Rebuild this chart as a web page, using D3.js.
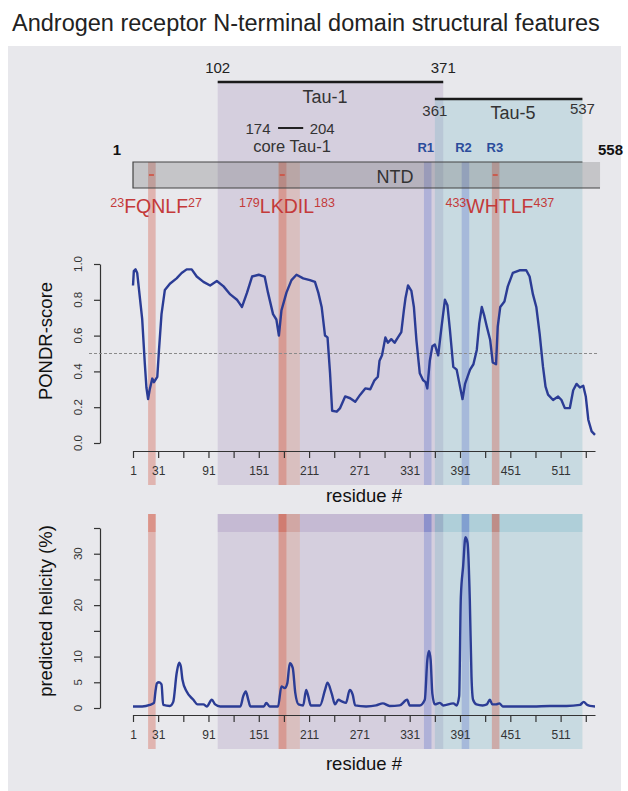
<!DOCTYPE html>
<html>
<head>
<meta charset="utf-8">
<script src="https://d3js.org/d3.v7.min.js"></script>
<style>
  body { margin: 0; background: #fff; }
  svg { display: block; font-family: "Liberation Sans", Arial, sans-serif; }
</style>
</head>
<body>
<svg id="chart" width="628" height="791"></svg>
<script>
// domain annotations (residue numbers)
const ntdRange = [1, 558];
const tauRegions = [
  { name: "Tau-1", start: 102, end: 371 },
  { name: "Tau-5", start: 361, end: 537 }
];
const coreTau1 = { name: "core Tau-1", start: 174, end: 204 };
const motifs = [
  { seq: "FQNLF", start: 23, end: 27 },
  { seq: "LKDIL", start: 179, end: 183 },
  { seq: "WHTLF", start: 433, end: 437 }
];
const repeats = [
  { name: "R1", start: 348, end: 357, band: true },
  { name: "R2", start: 393, end: 402, band: true },
  { name: "R3", start: 433, end: 437, band: false }
];

// axis ticks
const xTicks = d3.range(1, 542, 30);
const xLabels = [1, 31, 91, 151, 211, 271, 331, 391, 451, 511];
const pondrTicks = [0, 0.2, 0.4, 0.6, 0.8, 1.0];
const helixTicks = [0, 5, 10, 15, 20, 25, 30, 35];
const helixLabels = [0, 5, 10, 20, 30];

// PONDR disorder score [residue, score]
const pondr = [[1,0.88],[2,0.96],[4,0.97],[6,0.95],[9,0.82],[12,0.69],[15,0.45],[17,0.31],[19,0.245],[21,0.30],[24,0.36],[26,0.34],[30,0.37],[32,0.52],[35,0.72],[39,0.855],[45,0.89],[53,0.92],[59,0.95],[65,0.97],[71,0.97],[77,0.93],[85,0.90],[93,0.88],[101,0.905],[109,0.875],[117,0.83],[125,0.80],[128,0.78],[131,0.76],[137,0.84],[143,0.93],[151,0.94],[158,0.93],[162,0.84],[168,0.72],[172,0.69],[175,0.60],[178,0.74],[181,0.79],[184,0.84],[190,0.91],[196,0.94],[204,0.92],[212,0.91],[218,0.90],[222,0.84],[226,0.76],[230,0.60],[233,0.59],[236,0.39],[238.5,0.18],[244,0.175],[248,0.195],[254,0.26],[260,0.25],[266,0.23],[272,0.27],[278,0.305],[284,0.30],[289,0.35],[293,0.37],[295,0.46],[298,0.49],[302,0.59],[305,0.56],[309,0.58],[313,0.56],[317,0.59],[321,0.62],[324,0.74],[326,0.81],[329,0.88],[333,0.85],[336,0.76],[339,0.575],[343,0.39],[347,0.35],[350,0.34],[352,0.305],[355,0.46],[358,0.54],[361,0.55],[365,0.49],[369,0.65],[373,0.80],[376,0.77],[379,0.63],[383,0.425],[387,0.41],[391,0.315],[394,0.245],[397,0.33],[403,0.41],[407,0.44],[411,0.52],[414,0.67],[417,0.76],[420,0.71],[423,0.65],[427,0.575],[430,0.45],[434,0.44],[436,0.65],[439,0.76],[444,0.79],[448,0.875],[454,0.95],[462,0.965],[470,0.965],[474,0.93],[478,0.83],[482,0.76],[486,0.61],[490,0.425],[493,0.315],[496,0.27],[502,0.24],[508,0.26],[512,0.24],[516,0.195],[522,0.195],[526,0.295],[530,0.33],[534,0.31],[538,0.32],[541,0.26],[544,0.13],[548,0.065],[552,0.045]];

// predicted helicity (%) [residue, percent]
const helicity = [[1,0.3],[12,0.3],[21,0.6],[26,1.0],[28,3.5],[29.5,4.8],[32,5.0],[35,4.6],[37,0.6],[45,0.4],[49,1.2],[53,6.7],[56,8.8],[58,8.1],[60,5.5],[65,3.2],[73,1.6],[78,0.7],[85,0.7],[89,0.3],[95,1.6],[99,0.7],[105,0.3],[129,0.3],[132.5,2.3],[135.5,3.2],[138.5,1.6],[141,0.3],[157,0.3],[160,1.0],[164,0.3],[174,0.3],[178,4.2],[182,3.9],[185,4.8],[188,8.7],[191.5,7.8],[194.5,3.0],[198.5,0.7],[204,0.5],[207.5,3.5],[210,2.3],[213,0.5],[224,0.5],[230,3.5],[233,4.9],[238,2.8],[242,0.7],[246,1.6],[250,1.3],[255,1.0],[259.5,3.5],[263,2.6],[266,0.5],[279,0.3],[291,0.5],[299,0.9],[307,0.4],[319,0.5],[328,1.6],[331,0.5],[343,0.5],[349,1.6],[352,9.3],[354,11.1],[356,9.3],[358,2.8],[361,0.7],[367,1.0],[371,0.5],[383,0.9],[387,0.5],[390,2.3],[392,21.6],[394.7,27.5],[397.5,33.2],[400,32.1],[402.7,21.0],[404.7,6.1],[406.6,1.6],[410.6,0.7],[418,0.5],[423,0.7],[426.6,1.6],[429.6,0.7],[434,0.7],[438,0.9],[442,0.3],[478,0.3],[498,0.4],[518,0.4],[534,0.6],[538.6,1.2],[542,0.7],[546,0.4],[552,0.3]];

const svg = d3.select("#chart");

const x = d3.scaleLinear().domain([1, 552]).range([133, 595]);
const y1 = d3.scaleLinear().domain([0, 1]).range([443, 264]);
const y2 = d3.scaleLinear().domain([0, 35]).range([708, 528]);

const tauColor = { "Tau-1": "rgba(125,95,160,0.18)", "Tau-5": "rgba(95,175,190,0.23)" };
const tauBarY = { "Tau-1": 82, "Tau-5": 99 };
const red = "rgba(210,90,70,0.36)";
const orange = "rgba(230,150,110,0.28)";
const blue = "rgba(80,100,200,0.28)";
const lineBlue = "#2b3c95";

// title + grey panel
svg.append("text")
  .attr("x", 12).attr("y", 31)
  .attr("font-size", "23.5px")
  .attr("fill", "#222")
  .text("Androgen receptor N-terminal domain structural features");

svg.append("rect")
  .attr("x", 8).attr("y", 46)
  .attr("width", 613).attr("height", 745)
  .attr("fill", "#e8e8ec");

// shaded bands, drawn for one vertical span
function drawBands(g, top, bottom, tauTop) {
  g.selectAll("rect.tau")
    .data(tauRegions)
    .join("rect")
    .attr("class", "tau")
    .attr("x", d => x(d.start))
    .attr("width", d => x(d.end) - x(d.start))
    .attr("y", d => tauTop ? tauBarY[d.name] : top)
    .attr("height", d => bottom - (tauTop ? tauBarY[d.name] : top))
    .attr("fill", d => tauColor[d.name]);

  g.append("rect")
    .attr("x", x(coreTau1.start))
    .attr("width", x(coreTau1.end - 4) - x(coreTau1.start))
    .attr("y", top).attr("height", bottom - top)
    .attr("fill", orange);

  g.selectAll("rect.motif")
    .data(motifs)
    .join("rect")
    .attr("class", "motif")
    .attr("x", d => x(d.start - 4))
    .attr("width", d => x(d.end + 1) - x(d.start - 4))
    .attr("y", top).attr("height", bottom - top)
    .attr("fill", red);

  g.selectAll("rect.rep")
    .data(repeats.filter(d => d.band))
    .join("rect")
    .attr("class", "rep")
    .attr("x", d => x(d.start))
    .attr("width", d => x(d.end) - x(d.start))
    .attr("y", top).attr("height", bottom - top)
    .attr("fill", blue);
}

drawBands(svg.append("g"), 162, 485, true);
drawBands(svg.append("g"), 514, 749, false);
drawBands(svg.append("g"), 514, 532, false);

// NTD box
svg.append("rect")
  .attr("x", x(ntdRange[0]))
  .attr("width", x(ntdRange[1]) - x(ntdRange[0]))
  .attr("y", 162).attr("height", 26)
  .attr("fill", "rgba(90,90,90,0.25)");

svg.append("path")
  .attr("d", `M${x(537)},162H${x(ntdRange[0])}V188H${x(ntdRange[1])}`)
  .attr("fill", "none")
  .attr("stroke", "#444")
  .attr("stroke-width", 1.2);

svg.append("text")
  .attr("x", 395).attr("y", 183)
  .attr("text-anchor", "middle")
  .attr("font-size", "18px").attr("fill", "#333")
  .text("NTD");

svg.append("text")
  .attr("x", x(ntdRange[0]) - 16).attr("y", 155)
  .attr("text-anchor", "middle")
  .attr("font-size", "15px").attr("font-weight", "bold").attr("fill", "#111")
  .text(ntdRange[0]);

svg.append("text")
  .attr("x", x(ntdRange[1]) - 2).attr("y", 155)
  .attr("font-size", "15px").attr("font-weight", "bold").attr("fill", "#111")
  .text(ntdRange[1]);

// small red dashes on the box
svg.selectAll("line.dash")
  .data(motifs)
  .join("line")
  .attr("class", "dash")
  .attr("x1", d => x((d.start + d.end) / 2 - 2) - 2.5)
  .attr("x2", d => x((d.start + d.end) / 2 - 2) + 2.5)
  .attr("y1", 175).attr("y2", 175)
  .attr("stroke", "#d24a3a").attr("stroke-width", 1.5);

// Tau bars and labels
svg.selectAll("line.taubar")
  .data(tauRegions)
  .join("line")
  .attr("class", "taubar")
  .attr("x1", d => x(d.start)).attr("x2", d => x(d.end))
  .attr("y1", d => tauBarY[d.name]).attr("y2", d => tauBarY[d.name])
  .attr("stroke", "#1a1a1a").attr("stroke-width", 2.5);

const t1 = tauRegions[0], t5 = tauRegions[1];
svg.append("text").attr("x", x(t1.start)).attr("y", 73)
  .attr("text-anchor", "middle").attr("font-size", "15px").attr("fill", "#222").text(t1.start);
svg.append("text").attr("x", x(t1.end)).attr("y", 73)
  .attr("text-anchor", "middle").attr("font-size", "15px").attr("fill", "#222").text(t1.end);
svg.append("text").attr("x", 325).attr("y", 103)
  .attr("text-anchor", "middle").attr("font-size", "18px").attr("fill", "#333").text(t1.name);

svg.append("text").attr("x", x(t5.start)).attr("y", 116)
  .attr("text-anchor", "middle").attr("font-size", "15px").attr("fill", "#333").text(t5.start);
svg.append("text").attr("x", x(t5.end)).attr("y", 114)
  .attr("text-anchor", "middle").attr("font-size", "15px").attr("fill", "#333").text(t5.end);
svg.append("text").attr("x", 513).attr("y", 119)
  .attr("text-anchor", "middle").attr("font-size", "18px").attr("fill", "#333").text(t5.name);

// core Tau-1
svg.append("line")
  .attr("x1", x(coreTau1.start)).attr("x2", x(coreTau1.end))
  .attr("y1", 128).attr("y2", 128)
  .attr("stroke", "#222").attr("stroke-width", 2);
svg.append("text").attr("x", x(coreTau1.start) - 20).attr("y", 134)
  .attr("text-anchor", "middle").attr("font-size", "15px").attr("fill", "#333").text(coreTau1.start);
svg.append("text").attr("x", x(coreTau1.end) + 19).attr("y", 134)
  .attr("text-anchor", "middle").attr("font-size", "15px").attr("fill", "#333").text(coreTau1.end);
svg.append("text").attr("x", 292).attr("y", 152)
  .attr("text-anchor", "middle").attr("font-size", "16.5px").attr("fill", "#333").text(coreTau1.name);

// repeat labels
svg.selectAll("text.rep")
  .data(repeats)
  .join("text")
  .attr("class", "rep")
  .attr("x", d => x((d.start + d.end) / 2) - 2)
  .attr("y", 152)
  .attr("text-anchor", "middle")
  .attr("font-size", "13px").attr("font-weight", "bold")
  .attr("fill", "#2b4c9b")
  .text(d => d.name);

// motif labels with superscript residue numbers
const ml = svg.selectAll("text.motif")
  .data(motifs)
  .join("text")
  .attr("class", "motif")
  .attr("x", d => x((d.start + d.end) / 2) + 3)
  .attr("y", 213)
  .attr("text-anchor", "middle")
  .attr("fill", "#c43a3a");
ml.append("tspan").attr("font-size", "12.5px").attr("dy", -6).text(d => d.start);
ml.append("tspan").attr("font-size", "19.5px").attr("dy", 6).text(d => d.seq);
ml.append("tspan").attr("font-size", "12.5px").attr("dy", -6).text(d => d.end);

// x axes
function drawXAxis(yPos, labelY) {
  const ax = svg.append("g")
    .attr("transform", `translate(0,${yPos})`)
    .call(d3.axisBottom(x)
      .tickValues(xTicks)
      .tickSize(7)
      .tickSizeOuter(0)
      .tickPadding(8)
      .tickFormat(d => xLabels.includes(d) ? d : ""));
  ax.select(".domain").attr("stroke", "#333").attr("stroke-width", 1.2);
  ax.selectAll(".tick line").attr("stroke", "#333").attr("stroke-width", 1.2);
  ax.selectAll(".tick text")
    .attr("font-size", "12px").attr("fill", "#333")
    .attr("font-family", "Liberation Sans, Arial, sans-serif");

  svg.append("text")
    .attr("x", 364).attr("y", labelY)
    .attr("text-anchor", "middle")
    .attr("font-size", "18.5px").attr("fill", "#111")
    .text("residue #");
}

drawXAxis(451, 502);
drawXAxis(715, 770);

// y axes with labels turned along the axis
function drawYAxis(scale, ticks, labels, title, titleY) {
  const ax = svg.append("g")
    .attr("transform", "translate(100,0)")
    .call(d3.axisLeft(scale)
      .tickValues(ticks)
      .tickSize(6)
      .tickSizeOuter(0)
      .tickFormat(""));
  ax.select(".domain").attr("stroke", "#333").attr("stroke-width", 1.2);
  ax.selectAll(".tick line").attr("stroke", "#333").attr("stroke-width", 1.2);

  svg.selectAll(null)
    .data(labels)
    .join("text")
    .attr("transform", d => `translate(82,${scale(d)}) rotate(-90)`)
    .attr("text-anchor", "middle")
    .attr("font-size", "11.5px").attr("fill", "#333")
    .text(d => ticks === pondrTicks ? d.toFixed(1) : d);

  svg.append("text")
    .attr("transform", `translate(52,${titleY}) rotate(-90)`)
    .attr("text-anchor", "middle")
    .attr("font-size", "18.5px").attr("fill", "#111")
    .text(title);
}

drawYAxis(y1, pondrTicks, pondrTicks, "PONDR-score", 341);
drawYAxis(y2, helixTicks, helixLabels, "predicted helicity (%)", 611);

// 0.5 threshold
svg.append("line")
  .attr("x1", 89).attr("x2", 597)
  .attr("y1", y1(0.5)).attr("y2", y1(0.5))
  .attr("stroke", "#8a8a8a").attr("stroke-width", 1)
  .attr("stroke-dasharray", "3,2");

// curves
svg.append("path")
  .datum(pondr)
  .attr("d", d3.line().x(d => x(d[0])).y(d => y1(d[1])))
  .attr("fill", "none")
  .attr("stroke", lineBlue).attr("stroke-width", 2.4)
  .attr("stroke-linejoin", "round");

svg.append("path")
  .datum(helicity)
  .attr("d", d3.line().x(d => x(d[0])).y(d => y2(d[1])).curve(d3.curveMonotoneX))
  .attr("fill", "none")
  .attr("stroke", lineBlue).attr("stroke-width", 2.4)
  .attr("stroke-linejoin", "round");
</script>
</body>
</html>
